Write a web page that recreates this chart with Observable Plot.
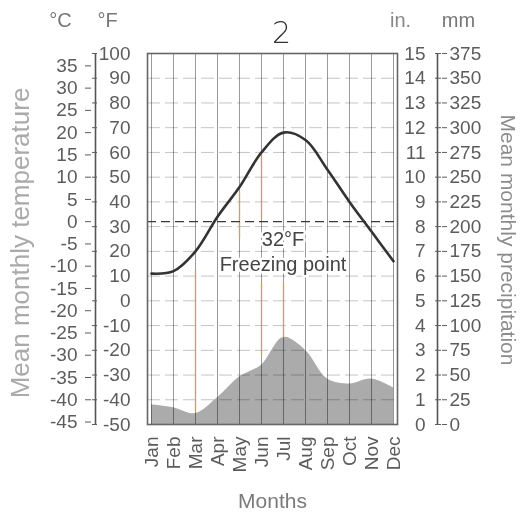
<!DOCTYPE html>
<html>
<head>
<meta charset="utf-8">
<script src="https://cdn.jsdelivr.net/npm/d3@7"></script>
<script src="https://cdn.jsdelivr.net/npm/@observablehq/plot@0.6"></script>
<style>
  html, body { margin: 0; padding: 0; background: #ffffff; }
  #chart { width: 522px; height: 514px; }
</style>
</head>
<body>
<div id="chart"></div>
<script>
// ---- data ----
const months = ["Jan","Feb","Mar","Apr","May","Jun","Jul","Aug","Sep","Oct","Nov","Dec"];
const tempF = [11, 12, 20, 34, 46, 60, 68, 65, 53, 40, 28, 16];          // mean monthly temperature (°F)
const precipMm = [20, 17, 11, 27, 48, 60, 88, 75, 46, 41, 46, 37];       // mean monthly precipitation (mm)

const cTicks = [35, 30, 25, 20, 15, 10, 5, 0, -5, -10, -15, -20, -25, -30, -35, -40, -45];
const fTicks = [100, 90, 80, 70, 60, 50, 40, 30, 20, 10, 0, -10, -20, -30, -40, -50];
const inTicks = [15, 14, 13, 12, 11, 10, 9, 8, 7, 6, 5, 4, 3, 2, 1, 0];
const mmTicks = [375, 350, 325, 300, 275, 250, 225, 200, 175, 150, 125, 100, 75, 50, 25, 0];
const gridF = [90, 80, 70, 60, 50, 40, 30, 20, 10, 0, -10, -20, -30, -40];
const freezingF = [32];
const freezeLabels = [
  {month: "Jul", f: 24.5, text: "32°F", dx: -5},
  {month: "Jul", f: 14.5, text: "Freezing point", dx: 0}
];
// faint pencil marks on the original scan (month, top °F, bottom °F)
const pencilMarks = [
  {month: "Mar", top: 12, bottom: -45},
  {month: "May", top: 44, bottom: 25},
  {month: "Jun", top: 59, bottom: 33},
  {month: "Jun", top: 7, bottom: -22},
  {month: "Jul", top: 7, bottom: -15}
];

// ---- unit conversions into the °F plotting space ----
const cToF = c => c * 9 / 5 + 32;
const mmToF = mm => -50 + mm * (150 / 375);
const inToF = i => mmToF(i * 25);

const temps = months.map((m, i) => ({month: m, f: tempF[i]}));
const precip = months.map((m, i) => ({month: m, mm: precipMm[i]}));

const font = "'Liberation Sans', Arial, Helvetica, sans-serif";
const numColor = "#5c5c5c";

const chart = Plot.plot({
  width: 522,
  height: 514,
  marginLeft: 147,
  marginRight: 125,
  marginTop: 53,
  marginBottom: 90,
  style: {background: "#ffffff", fontFamily: font, overflow: "visible"},
  x: {type: "point", domain: months, padding: 0},
  y: {domain: [-50, 100]},
  marks: [
    // precipitation area
    Plot.areaY(precip, {x: "month", y1: -50, y2: d => mmToF(d.mm), fill: "#ababab", curve: "catmull-rom"}),
    // grid
    Plot.ruleX(months, {stroke: "#9a9a9a", strokeWidth: 1, mixBlendMode: "multiply"}),
    Plot.ruleY(gridF, {stroke: "#c4c4c4", strokeWidth: 1, strokeDasharray: "13,5", mixBlendMode: "multiply"}),
    // pencil marks
    Plot.ruleX(pencilMarks, {x: "month", y1: "top", y2: "bottom", stroke: "#c9a65a", strokeWidth: 1.4, strokeOpacity: 0.85}),
    // freezing line
    Plot.ruleY(freezingF, {stroke: "#3a3a3a", strokeWidth: 1.3, strokeDasharray: "9,5"}),
    // freezing labels
    Plot.text(freezeLabels, {x: "month", y: "f", text: "text", dx: "dx", fontSize: 20, fill: "#444", stroke: "white", strokeWidth: 5}),
    // temperature line
    Plot.line(temps, {x: "month", y: "f", stroke: "#333", strokeWidth: 2.6, curve: "catmull-rom"}),
    Plot.frame({stroke: "#666", strokeWidth: 1.6}),

    // left axis line (°C / °F)
    Plot.ruleX(["Jan"], {dx: -56, y1: -50, y2: 100, stroke: "#555", strokeWidth: 1.6}),
    // °C ticks + labels
    Plot.axisY(cTicks.map(cToF), {anchor: "left", dx: -56, tickSize: 6, tickPadding: 8, fontSize: 19, color: numColor,
      tickFormat: f => String(Math.round((f - 32) * 5 / 9)), label: null}),
    // °F ticks
    Plot.axisY(fTicks, {anchor: "right", dx: -306, tickSize: 5, color: numColor, tickFormat: () => "", label: null}),
    // °F labels
    Plot.axisY(fTicks, {anchor: "left", dx: -17, tickSize: 0, tickPadding: 0, fontSize: 19, color: numColor,
      tickFormat: f => String(f), label: null}),

    // right axis line (in / mm)
    Plot.ruleX(["Dec"], {dx: 44, y1: -50, y2: 100, stroke: "#555", strokeWidth: 1.6}),
    Plot.axisY(inTicks.map(inToF), {anchor: "left", dx: 294, tickSize: 6, tickPadding: 10, fontSize: 19, color: numColor,
      tickFormat: f => String(Math.round((f + 50) / 10)), label: null}),
    Plot.axisY(mmTicks.map(mmToF), {anchor: "right", dx: 44, tickSize: 5, tickPadding: 3, fontSize: 19, color: numColor,
      tickFormat: f => String(Math.round((f + 50) * 375 / 150)), label: null}),

    // month axis
    Plot.axisX({anchor: "bottom", tickRotate: -90, tickSize: 0, tickPadding: 12, fontSize: 19, color: numColor, label: null}),

    // titles & headers
    Plot.text(["Months"], {frameAnchor: "bottom", dy: 77, textAnchor: "middle", lineAnchor: "middle", fontSize: 21, fill: "#7a7a7a"}),
    Plot.text(["Mean monthly temperature"], {frameAnchor: "left", dx: -127, dy: 4, rotate: -90, textAnchor: "middle", lineAnchor: "middle", fontSize: 26, fill: "#aaaaaa"}),
    Plot.text(["Mean monthly precipitation"], {frameAnchor: "right", dx: 110, dy: 1, rotate: 90, textAnchor: "middle", lineAnchor: "middle", fontSize: 21, fill: "#8c8c8c"}),
    Plot.text(["°C"], {frameAnchor: "top-left", dx: -87, dy: -33, textAnchor: "middle", lineAnchor: "middle", fontSize: 20, fill: "#777"}),
    Plot.text(["°F"], {frameAnchor: "top-left", dx: -40, dy: -33, textAnchor: "middle", lineAnchor: "middle", fontSize: 20, fill: "#777"}),
    Plot.text(["in."], {frameAnchor: "top-right", dx: 3, dy: -33, textAnchor: "middle", lineAnchor: "middle", fontSize: 20, fill: "#888"}),
    Plot.text(["mm"], {frameAnchor: "top-right", dx: 61, dy: -33, textAnchor: "middle", lineAnchor: "middle", fontSize: 20, fill: "#777"}),
    Plot.text(["2"], {frameAnchor: "top", dx: 9, dy: -20, textAnchor: "middle", lineAnchor: "middle", fontSize: 30, fill: "#333", fontFamily: "'DejaVu Sans', sans-serif", fontWeight: 300})
  ]
});

document.getElementById("chart").appendChild(chart);
</script>
</body>
</html>
